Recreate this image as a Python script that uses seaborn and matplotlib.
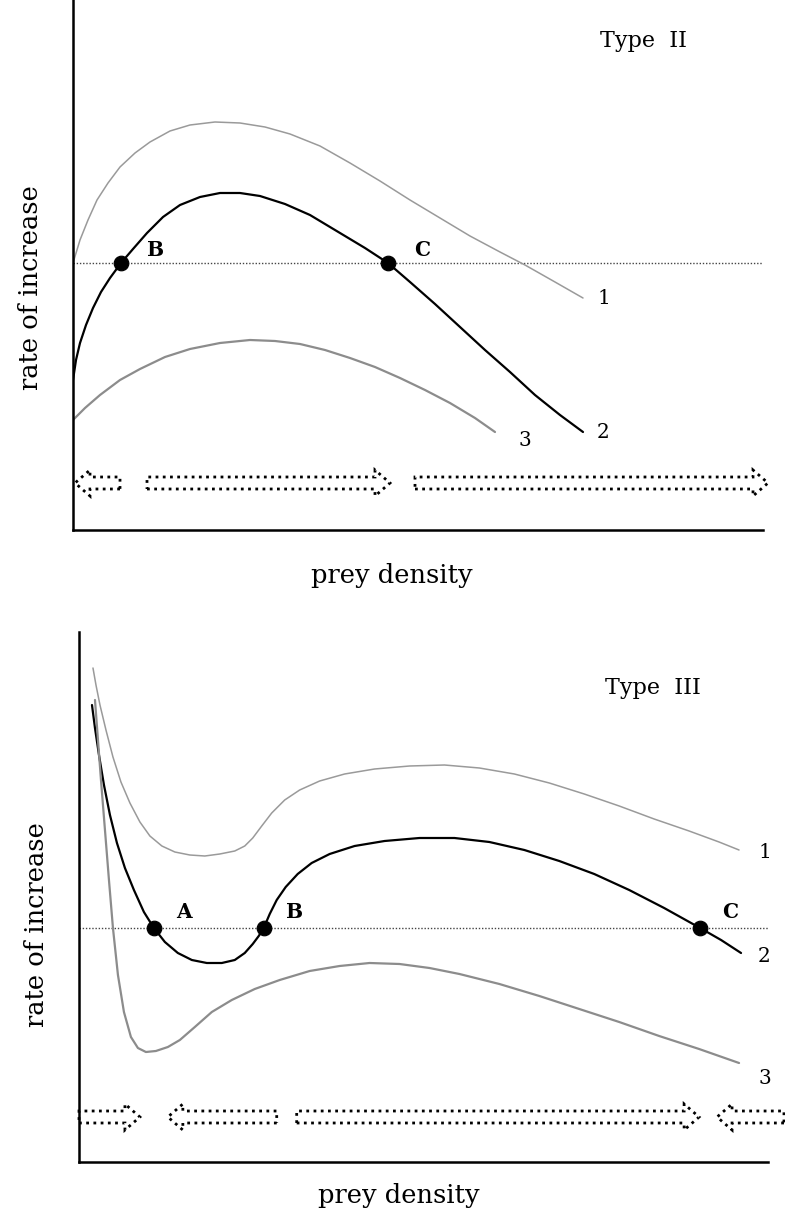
import numpy as np
import pandas as pd
import seaborn as sns
import matplotlib.pyplot as plt
from matplotlib.patches import Polygon

# ---- data (x: prey density, y: rate of increase, equilibrium at y = 0) ----
# Type II panel
t2_c1_x = [0, 7, 15, 24, 35, 47, 62, 77, 97, 117, 142, 167, 192, 217, 247, 277,
           307, 337, 367, 397, 427, 452, 482, 510]
t2_c1_y = [0, 23, 43, 63, 80, 96, 110, 121, 132, 138, 141, 140, 136, 129, 117, 100,
           82, 63, 45, 27, 11, -2, -19, -35]
t2_c2_x = [0, 3, 7, 13, 20, 28, 37, 48, 60, 74, 90, 107, 127, 147, 167, 187, 212,
           237, 267, 292, 315, 337, 362, 387, 412, 437, 462, 487, 510]
t2_c2_y = [-117, -97, -80, -62, -45, -29, -15, 0, 14, 30, 46, 58, 66, 70, 70, 67, 59,
           48, 30, 15, 0, -19, -41, -64, -87, -109, -132, -152, -169]
t2_c3_x = [0, 12, 27, 47, 67, 92, 117, 147, 177, 202, 227, 252, 277, 302, 327, 352,
           377, 402, 422]
t2_c3_y = [-157, -145, -132, -117, -106, -94, -86, -80, -77, -78, -81, -87, -95, -104,
           -115, -127, -140, -155, -169]
t2_eq_x = [48, 315]
t2_eq_labels = ["B", "C"]
t2_arrows = [(47, 2), (74, 317), (342, 695)]   # (tail, head)

# Type III panel
t3_c1_x = [14, 17, 21, 27, 34, 42, 51, 61, 71, 83, 96, 111, 126, 141, 156, 166, 174,
           183, 193, 206, 221, 241, 266, 296, 331, 366, 401, 436, 471, 506, 541, 576,
           611, 641, 661]
t3_c1_y = [260, 243, 223, 198, 171, 146, 125, 106, 92, 82, 76, 73, 72, 74, 77, 82, 90,
           102, 115, 128, 138, 147, 154, 159, 162, 163, 160, 154, 145, 134, 122, 109,
           97, 86, 78]
t3_c2_x = [13, 16, 20, 25, 31, 38, 46, 55, 65, 75, 86, 99, 113, 128, 143, 156, 166,
           174, 180, 185, 191, 198, 207, 219, 233, 251, 276, 306, 341, 376, 411, 446,
           481, 516, 551, 586, 622, 643, 663]
t3_c2_y = [223, 200, 173, 143, 113, 85, 60, 38, 16, 0, -14, -25, -32, -35, -35, -32,
           -25, -16, -8, 0, 14, 28, 41, 54, 65, 74, 82, 87, 90, 90, 86, 78, 67, 54, 38,
           20, 0, -12, -25]
t3_c3_x = [16, 19, 22, 26, 30, 34, 39, 45, 52, 59, 67, 77, 89, 101, 116, 133, 153, 176,
           201, 231, 261, 291, 321, 351, 381, 421, 461, 501, 541, 581, 621, 661]
t3_c3_y = [228, 188, 148, 98, 48, 0, -47, -84, -109, -120, -124, -123, -119, -112, -99,
           -84, -72, -61, -52, -43, -38, -35, -36, -40, -46, -56, -68, -81, -94, -108,
           -121, -135]
t3_eq_x = [75, 185, 622]
t3_eq_labels = ["A", "B", "C"]
t3_arrows = [(0, 61), (198, 89), (218, 621), (706, 639)]

curve_names = ["1", "2", "3"]

# ---- figure ----
sns.set_style("white")
plt.rcParams["font.family"] = ["DejaVu Serif", "Liberation Serif"]
plt.rcParams["text.color"] = "black"

W, H = 785, 1222
fig = plt.figure(figsize=(W / 100, H / 100), dpi=100)
ax1 = fig.add_axes([73 / W, (H - 530) / H, 690 / W, 530 / H])
ax2 = fig.add_axes([79 / W, (H - 1162) / H, 689 / W, 530 / H])


def hollow_arrow(ax, tail, head, y, shaft=6, hw=13, hl=15):
    d = 1 if head > tail else -1
    neck = head - d * hl
    verts = [(tail, y - shaft), (neck, y - shaft), (neck, y - hw), (head, y),
             (neck, y + hw), (neck, y + shaft), (tail, y + shaft)]
    ax.add_patch(Polygon(verts, closed=True, fill=False, edgecolor="black",
                         linestyle=(0, (1, 1.6)), linewidth=2.0, clip_on=False))


def draw_panel(ax, curves, eq_x, eq_labels, arrows, arrow_y, ylim, title, title_xy,
               name_xy, label_off):
    ax.set_xlim(0, 690)
    ax.set_ylim(*ylim)
    ax.axhline(0, color="#444444", linestyle=(0, (1, 1.3)), linewidth=1.0)
    styles = [("#9a9a9a", 1.1), ("black", 1.6), ("#8c8c8c", 1.6)]
    for (cx, cy), (col, lw), name, nxy in zip(curves, styles, curve_names, name_xy):
        df = pd.DataFrame({"x": cx, "y": cy})
        sns.lineplot(data=df, x="x", y="y", ax=ax, color=col, linewidth=lw,
                     sort=False, estimator=None)
        ax.text(nxy[0], nxy[1], name, fontsize=14.5, ha="left", va="center")
    eq = pd.DataFrame({"x": eq_x, "y": [0] * len(eq_x)})
    sns.scatterplot(data=eq, x="x", y="y", ax=ax, color="black", s=110,
                    edgecolor="black", zorder=5)
    for x, lab in zip(eq_x, eq_labels):
        ax.text(x + label_off[0], label_off[1], lab, fontsize=14.5, fontweight="bold",
                ha="left", va="center")
    for tail, head in arrows:
        hollow_arrow(ax, tail, head, arrow_y)
    ax.text(title_xy[0], title_xy[1], title, fontsize=16, ha="left", va="center")
    ax.set_xticks([])
    ax.set_yticks([])
    ax.set_xlabel("")
    ax.set_ylabel("")
    for s in ["top", "right"]:
        ax.spines[s].set_visible(False)
    for s in ["left", "bottom"]:
        ax.spines[s].set_color("black")
        ax.spines[s].set_linewidth(1.8)


draw_panel(ax1,
           [(t2_c1_x, t2_c1_y), (t2_c2_x, t2_c2_y), (t2_c3_x, t2_c3_y)],
           t2_eq_x, t2_eq_labels, t2_arrows, -220, (-267, 263),
           "Type  II", (527, 222),
           [(525, -35), (524, -169), (446, -177)], (26, 13))

draw_panel(ax2,
           [(t3_c1_x, t3_c1_y), (t3_c2_x, t3_c2_y), (t3_c3_x, t3_c3_y)],
           t3_eq_x, t3_eq_labels, t3_arrows, -189, (-234, 296),
           "Type  III", (527, 240),
           [(680, 76), (680, -29), (680, -150)], (22, 16))

# axis titles
for (xl, yl), (yx, yy) in [((392, 575), (31, 288)), ((399, 1195), (37, 925))]:
    fig.text(xl / W, 1 - yl / H, "prey density", fontsize=18.5, ha="center", va="center")
    fig.text(yx / W, 1 - yy / H, "rate of increase", fontsize=18.5, rotation=90,
             ha="center", va="center")

fig.savefig("out.png", dpi=100)
